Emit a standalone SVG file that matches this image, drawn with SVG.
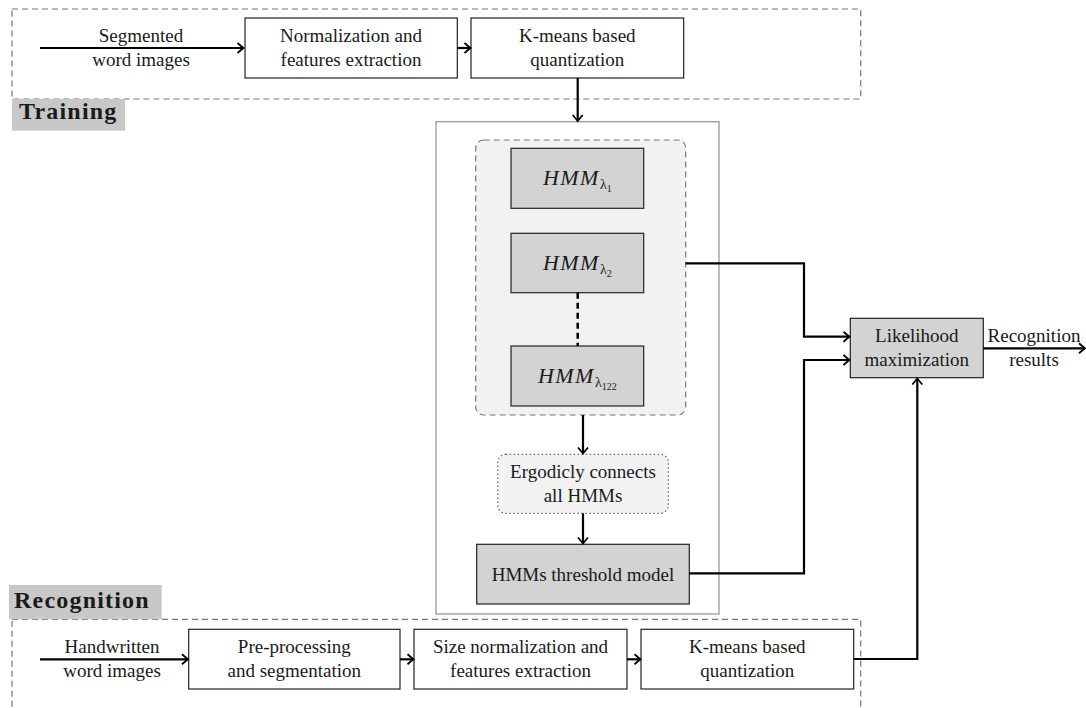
<svg xmlns="http://www.w3.org/2000/svg" width="1086" height="708" viewBox="0 0 1086 708" font-family="'Liberation Serif', 'DejaVu Serif', serif">
<style>
text{font-family:'Liberation Serif','DejaVu Serif',serif;font-size:19px;fill:#1a1a1a;text-anchor:middle}
.box{fill:#fff;stroke:#222;stroke-width:1.2}
.gbox{fill:#d3d3d3;stroke:#222;stroke-width:1.2}
.dash{fill:none;stroke:#777;stroke-width:1.2;stroke-dasharray:6,4}
.lbl{fill:#c8c8c8;stroke:none}
.ttl{font-weight:bold;font-size:24px;letter-spacing:1.2px;text-anchor:start}
.conn{fill:none;stroke:#000;stroke-width:2.2}
.hmm{font-style:italic;font-size:22px;letter-spacing:1.5px}
.sub{font-style:normal;font-size:14px;letter-spacing:0}
.sub2{font-style:normal;font-size:10px;letter-spacing:0}
</style>
<defs>
<marker id="ah" markerUnits="userSpaceOnUse" markerWidth="14" markerHeight="14" viewBox="-8 -7 10 14" refX="0" refY="0" orient="auto">
<path d="M -6 -5 Q -1.5 -1.2 0 0 Q -1.5 1.2 -6 5" fill="none" stroke="#000" stroke-width="1.8"/>
</marker>
</defs>
<g id="training-frame">
<rect class="dash" x="12" y="9" width="848.7" height="90"/>
<rect class="lbl" x="12" y="99" width="113" height="31.7"/>
<text class="ttl" x="19" y="119">Training</text>
</g>
<g id="recognition-frame">
<rect class="dash" x="12" y="619.3" width="848.7" height="100"/>
<rect class="lbl" x="9" y="585" width="152.7" height="34.3"/>
<text class="ttl" x="14" y="608">Recognition</text>
</g>
<g id="model-frame">
<rect x="436" y="121.7" width="283" height="492.3" fill="#fff" stroke="#999" stroke-width="1.3"/>
</g>
<g id="hmm-group">
<rect x="475.7" y="140" width="210" height="275" rx="8" fill="#f2f2f2" stroke="#777" stroke-width="1.2" stroke-dasharray="6,4"/>
</g>
<g id="seg-label">
<text x="141" y="42">Segmented</text>
<text x="141" y="66">word images</text>
</g>
<g id="t-norm">
<rect class="box" x="245" y="18" width="212.3" height="60"/>
<text x="351" y="42">Normalization and</text>
<text x="351" y="66">features extraction</text>
</g>
<g id="t-kmeans">
<rect class="box" x="471" y="18" width="212.7" height="60"/>
<text x="577.3" y="42">K-means based</text>
<text x="577.3" y="66">quantization</text>
</g>
<g id="hmm1">
<rect class="gbox" x="511" y="148.3" width="132.7" height="60"/>
<text x="577.3" y="185" class="hmm">HMM<tspan class="sub" dy="4">λ</tspan><tspan class="sub2" dy="3">1</tspan></text>
</g>
<g id="hmm2">
<rect class="gbox" x="511" y="233.3" width="132.7" height="59.4"/>
<text x="577.3" y="270" class="hmm">HMM<tspan class="sub" dy="4">λ</tspan><tspan class="sub2" dy="3">2</tspan></text>
</g>
<g id="hmm122">
<rect class="gbox" x="511" y="346" width="132.7" height="60"/>
<text x="577.3" y="383" class="hmm">HMM<tspan class="sub" dy="4">λ</tspan><tspan class="sub2" dy="3">122</tspan></text>
</g>
<g id="ergodic">
<rect x="497.7" y="454.3" width="170.6" height="59" rx="8" fill="#f2f2f2" stroke="#666" stroke-width="1.2" stroke-dasharray="1.5,2.5"/>
<text x="583" y="478">Ergodicly connects</text>
<text x="583" y="502">all HMMs</text>
</g>
<g id="threshold">
<rect class="gbox" x="476.7" y="544.3" width="212.6" height="59.7"/>
<text x="583" y="581">HMMs threshold model</text>
</g>
<g id="likelihood">
<rect class="gbox" x="850.3" y="318.3" width="133" height="59.4"/>
<text x="916.8" y="342">Likelihood</text>
<text x="916.8" y="366">maximization</text>
</g>
<g id="out-label">
<text x="1034" y="342">Recognition</text>
<text x="1034" y="366">results</text>
</g>
<g id="hw-label">
<text x="112" y="653">Handwritten</text>
<text x="112" y="677">word images</text>
</g>
<g id="r-pre">
<rect class="box" x="188.7" y="629.3" width="211.3" height="59.7"/>
<text x="294.3" y="653">Pre-processing</text>
<text x="294.3" y="677">and segmentation</text>
</g>
<g id="r-size">
<rect class="box" x="414" y="629.3" width="213" height="59.7"/>
<text x="520.5" y="653">Size normalization and</text>
<text x="520.5" y="677">features extraction</text>
</g>
<g id="r-kmeans">
<rect class="box" x="641" y="629.3" width="212.7" height="59.7"/>
<text x="747.3" y="653">K-means based</text>
<text x="747.3" y="677">quantization</text>
</g>
<g id="connectors">
<path class="conn" d="M40 48H243.5" marker-end="url(#ah)"/>
<path class="conn" d="M457.3 48H470.5" marker-end="url(#ah)"/>
<path class="conn" d="M577.7 78V121" marker-end="url(#ah)"/>
<path d="M577.7 292.7V346" fill="none" stroke="#000" stroke-width="2.5" stroke-dasharray="6,4"/>
<path class="conn" d="M583 415V453.5" marker-end="url(#ah)"/>
<path class="conn" d="M583 513.3V543.5" marker-end="url(#ah)"/>
<path class="conn" d="M685.7 263.3H804V336.7H849.5" marker-end="url(#ah)"/>
<path class="conn" d="M689.3 573.3H804V360H849.5" marker-end="url(#ah)"/>
<path class="conn" d="M983.3 348.3H1085" marker-end="url(#ah)"/>
<path class="conn" d="M40 659.3H188" marker-end="url(#ah)"/>
<path class="conn" d="M400 659.3H413.5" marker-end="url(#ah)"/>
<path class="conn" d="M627 659.3H640.5" marker-end="url(#ah)"/>
<path class="conn" d="M853.7 659H917.3V378.5" marker-end="url(#ah)"/>
</g>
</svg>
